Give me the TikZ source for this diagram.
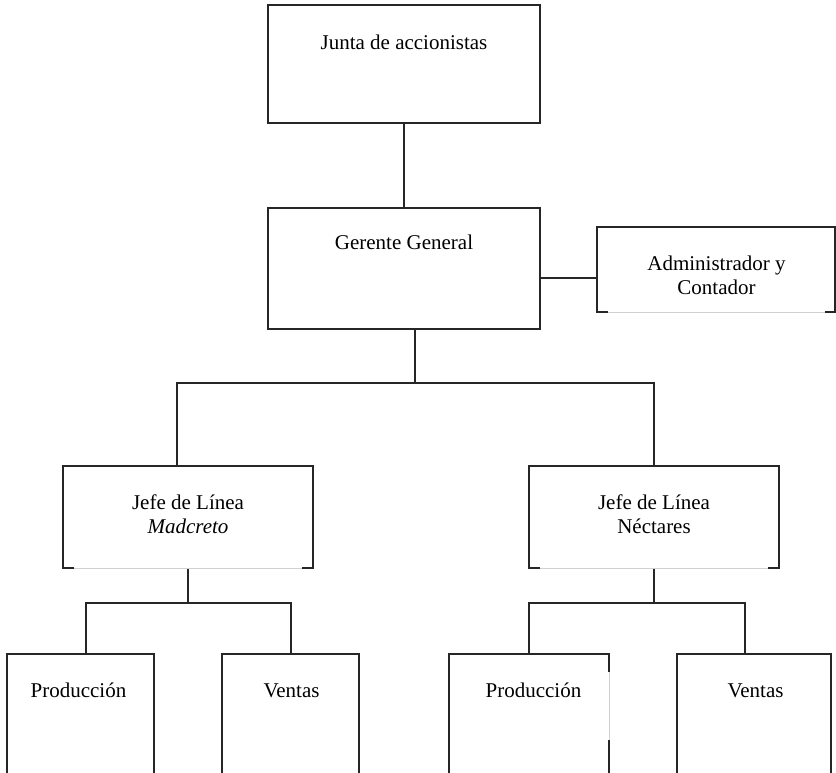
\documentclass[tikz,border=0pt]{standalone}
\usepackage{fontspec}
\setmainfont{Liberation Serif}
\begin{document}
\begin{tikzpicture}[x=1pt,y=-1pt,
  box/.style={draw=black!85,line width=1.2pt,inner sep=0pt,outer sep=0pt},
  lbl/.style={anchor=base,align=center,inner sep=0pt,font=\fontsize{21}{24}\selectfont},
  link/.style={draw=black!85,line width=1.2pt},
  faded/.style={draw=white,line width=1.8pt,postaction={draw=black!18,line width=0.8pt}}]
\clip (0,0) rectangle (836,772);

% boxes
\node[box,minimum width=272pt,minimum height=118pt] (junta) at (404,64) {};
\node[box,minimum width=272pt,minimum height=121pt] (gerente) at (404,268.5) {};
\node[box,minimum width=238pt,minimum height=85pt] (admin) at (716,269.5) {};
\node[box,minimum width=250pt,minimum height=102pt] (jefeM) at (188,517) {};
\node[box,minimum width=250pt,minimum height=102pt] (jefeN) at (654,517) {};
\node[box,minimum width=147pt,minimum height=160pt] (prodM) at (80.5,734) {};
\node[box,minimum width=137pt,minimum height=160pt] (ventM) at (290.5,734) {};
\node[box,minimum width=160pt,minimum height=160pt] (prodN) at (529,734) {};
\node[box,minimum width=154pt,minimum height=160pt] (ventN) at (754,734) {};

% labels (multi-line labels sit on the baseline of their last line)
\node[lbl] (juntaT) at (404,49) {Junta de accionistas};
\node[lbl] (gerenteT) at (404,249) {Gerente General};
\node[lbl] (adminT) at (716.5,294) {Administrador y\\Contador};
\node[lbl] (jefeMT) at (188,533) {Jefe de Línea\\\textit{Madcreto}};
\node[lbl] (jefeNT) at (654,533) {Jefe de Línea\\Néctares};
\node[lbl] (prodMT) at (78.5,697) {Producción};
\node[lbl] (ventMT) at (291.5,697) {Ventas};
\node[lbl] (prodNT) at (533.5,697) {Producción};
\node[lbl] (ventNT) at (755.5,697) {Ventas};

% connectors
\draw[link] (junta.south) -- (gerente.north);
\coordinate (yAdm) at (0,278);
\draw[link] (gerente.east |- yAdm) -- (admin.west |- yAdm);

\coordinate (busG) at (415,383);
\coordinate (busL) at (177,383);
\coordinate (busR) at (654,383);
\draw[link] (gerente.south -| busG) -- (busG);
\draw[link] (jefeM.north -| busL) -- (busL) -- (busR) -- (jefeN.north -| busR);

\coordinate (subM) at (188,603);
\coordinate (subML) at (86,603);
\coordinate (subMR) at (291,603);
\draw[link] (jefeM.south -| subM) -- (subM);
\draw[link] (prodM.north -| subML) -- (subML) -- (subMR) -- (ventM.north -| subMR);

\coordinate (subN) at (654,603);
\coordinate (subNL) at (529,603);
\coordinate (subNR) at (745,603);
\draw[link] (jefeN.south -| subN) -- (subN);
\draw[link] (prodN.north -| subNL) -- (subNL) -- (subNR) -- (ventN.north -| subNR);

% faint border segments
\draw[faded] ([xshift=11pt]admin.south west) -- ([xshift=-10pt]admin.south east);
\draw[faded] ([xshift=11pt]jefeM.south west) -- ([xshift=-11pt]jefeM.south east);
\draw[faded] ([xshift=11pt]jefeN.south west) -- ([xshift=-11pt]jefeN.south east);
\draw[faded] ([yshift=-18pt]prodN.north east) -- ([yshift=-86pt]prodN.north east);
\end{tikzpicture}
\end{document}
